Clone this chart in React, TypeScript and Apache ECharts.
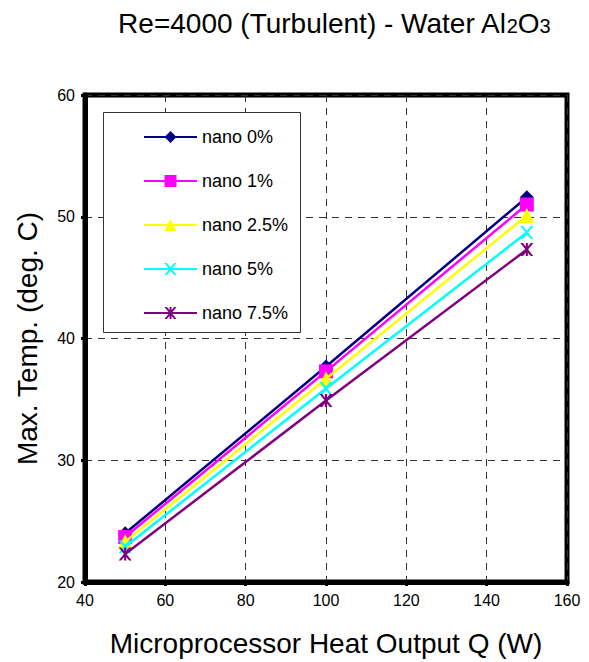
import React, { useEffect, useRef } from "react";
import * as echarts from "echarts";

const xValues = [50, 100, 150];
const seriesNames = ["nano 0%", "nano 1%", "nano 2.5%", "nano 5%", "nano 7.5%"];
const nano0 = [24.0, 37.7, 51.6];
const nano1 = [23.7, 37.3, 51.0];
const nano25 = [23.3, 36.7, 50.1];
const nano5 = [22.9, 35.9, 48.7];
const nano75 = [22.3, 34.9, 47.3];
const seriesColors = ["#000080", "#FF00FF", "#FFFF00", "#00FFFF", "#800080"];

const X_PATH =
  "path://M0,0 L2,0 L5,3.6 L8,0 L10,0 L6,5 L10,10 L8,10 L5,6.4 L2,10 L0,10 L4,5 Z";
const STAR_PATH =
  "path://M0,0 L2,0 L5,3.6 L8,0 L10,0 L6,5 L10,10 L8,10 L5,6.4 L2,10 L0,10 L4,5 Z M4.2,0 L5.8,0 L5.8,10 L4.2,10 Z";
const symbols = ["diamond", "rect", "triangle", X_PATH, STAR_PATH];
const symbolSizes = [14, 14, 15, 13, 13];

export default function App() {
  const ref = useRef<HTMLDivElement>(null);
  useEffect(() => {
    if (!ref.current) return;
    const chart = echarts.init(ref.current, null, { renderer: "svg" });
    const allData = [nano0, nano1, nano25, nano5, nano75];
    const font = "Liberation Sans, Arial, sans-serif";
    chart.setOption({
      animation: false,
      backgroundColor: "#ffffff",
      textStyle: { fontFamily: font },
      title: {
        text: "{a|Re=4000 (Turbulent) - Water Al}{b|2}{a|O}{b|3}",
        left: 334,
        top: 9,
        textAlign: "center",
        padding: 0,
        textStyle: {
          fontWeight: "normal",
          rich: {
            a: { fontSize: 28, color: "#000", fontFamily: font, fontWeight: "normal" },
            b: {
              fontSize: 20,
              color: "#000",
              fontFamily: font,
              fontWeight: "normal",
              padding: [6, 0, 0, 0],
            },
          },
        },
      },
      grid: {
        left: 85,
        right: 22,
        top: 95,
        bottom: 75,
        show: true,
        borderColor: "#000",
        borderWidth: 5,
        backgroundColor: "transparent",
      },
      graphic: [
        {
          type: "rect",
          shape: { x: 103.5, y: 112.5, width: 197, height: 220 },
          style: { fill: "#fff", stroke: "#333", lineWidth: 1 },
          z: 50,
        },
      ],
      legend: {
        orient: "vertical",
        left: 143,
        top: 127,
        padding: 0,
        itemWidth: 53,
        itemHeight: 15,
        itemGap: 24,
        z: 60,
        textStyle: { fontSize: 18, color: "#000", lineHeight: 20, fontFamily: font },
        data: seriesNames,
      },
      xAxis: {
        type: "value",
        min: 40,
        max: 160,
        interval: 20,
        name: "Microprocessor Heat Output Q (W)",
        nameLocation: "middle",
        nameGap: 47,
        nameTextStyle: { fontSize: 28, color: "#000", fontFamily: font },
        axisLine: { show: true, lineStyle: { color: "#000", width: 5 } },
        axisTick: { show: true, length: 4, lineStyle: { color: "#000", width: 3 } },
        axisLabel: { fontSize: 16, color: "#000", margin: 10, fontFamily: font },
        splitLine: {
          show: true,
          lineStyle: { color: "#333", type: [7, 6], width: 1 },
        },
      },
      yAxis: {
        type: "value",
        min: 20,
        max: 60,
        interval: 10,
        name: "Max. Temp. (deg. C)",
        nameLocation: "middle",
        nameGap: 44,
        nameTextStyle: { fontSize: 28, color: "#000", fontFamily: font },
        axisLine: { show: true, lineStyle: { color: "#000", width: 5 } },
        axisTick: { show: true, length: 4, lineStyle: { color: "#000", width: 3 } },
        axisLabel: { fontSize: 16, color: "#000", margin: 10, fontFamily: font },
        splitLine: {
          show: true,
          lineStyle: { color: "#333", type: [7, 6], width: 1 },
        },
      },
      series: seriesNames.map((name, i) => ({
        name,
        type: "line",
        data: xValues.map((x, j) => [x, allData[i][j]]),
        symbol: symbols[i],
        symbolSize: symbolSizes[i],
        showAllSymbol: true,
        color: seriesColors[i],
        lineStyle: { color: seriesColors[i], width: 2.5 },
        itemStyle: { color: seriesColors[i] },
        z: 10 + i,
      })),
    });
    return () => chart.dispose();
  }, []);
  return (
    <div
      ref={ref}
      style={{ position: "absolute", left: 0, top: 0, width: 589, height: 662 }}
    />
  );
}
